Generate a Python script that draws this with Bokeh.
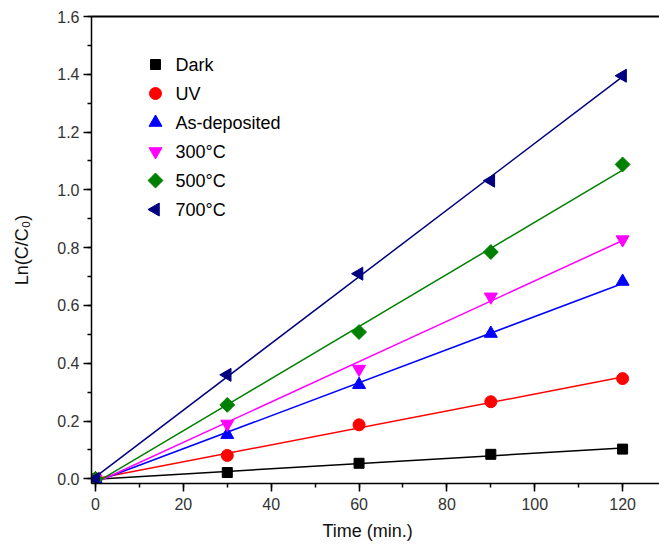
import numpy as np
from bokeh.plotting import figure
from bokeh.models import Range1d, LinearAxis, SingleIntervalTicker, PrintfTickFormatter, Title
from bokeh.core.properties import value
from bokeh.embed import file_html
from bokeh.resources import INLINE

# ---- data ----
time = [0, 30, 60, 90, 120]
dark = [0.0, 0.022, 0.054, 0.085, 0.103]
uv = [0.0, 0.081, 0.187, 0.267, 0.347]
as_dep = [0.0, 0.153, 0.326, 0.503, 0.683]
t300 = [0.0, 0.19, 0.38, 0.63, 0.828]
t500 = [0.0, 0.256, 0.508, 0.785, 1.088]
t700 = [0.0, 0.36, 0.71, 1.032, 1.395]

series_names = ["Dark", "UV", "As-deposited", "300°C", "500°C", "700°C"]
series_values = [dark, uv, as_dep, t300, t500, t700]
colors = ["#000000", "#FF0000", "#0000FF", "#FF00FF", "#008000", "#000080"]
markers = ["square", "circle", "triangle", "inverted_triangle", "square", "triangle"]
sizes = [10, 12, 13, 13, 10.5, 13]
angles = [0, 0, 0, 0, np.pi / 4, np.pi / 2]

x_ticks_interval = 20
y_ticks_interval = 0.2
x_title = "Time (min.)"
y_title = "Ln(C/C₀)"

FONT = "Liberation Sans"

# layout (pixels)
W, H = 659, 546
FL, FT, FB = 91, 16, 483          # frame left, top, bottom
X0, X1 = -0.91, 128.4
Y0, Y1 = -0.016, 1.6

p = figure(width=W, height=H, output_backend="svg", toolbar_location=None,
           x_range=Range1d(X0, X1), y_range=Range1d(Y0, Y1),
           min_border_left=FL, min_border_right=0, min_border_top=FT,
           min_border_bottom=H - FB)
p.outline_line_color = None
p.xgrid.visible = False
p.ygrid.visible = False
p.background_fill_color = "white"

for ax in (p.xaxis[0], p.yaxis[0]):
    ax.axis_line_width = 1.5
    ax.axis_line_color = "black"
    ax.major_tick_line_color = "black"
    ax.minor_tick_line_color = "black"
    ax.major_tick_line_width = 1.5
    ax.minor_tick_line_width = 1.5
    ax.major_tick_in = 0
    ax.major_tick_out = 8
    ax.minor_tick_in = 0
    ax.minor_tick_out = 4
    ax.major_label_text_font = FONT
    ax.major_label_text_font_size = "16px"
    ax.major_label_text_color = "#333333"
    ax.axis_label_text_font = FONT
    ax.axis_label_text_font_size = "18px"
    ax.axis_label_text_font_style = "normal"
    ax.axis_label_text_color = "#111111"

p.xaxis[0].ticker = SingleIntervalTicker(interval=x_ticks_interval, num_minor_ticks=2)
p.yaxis[0].ticker = SingleIntervalTicker(interval=y_ticks_interval, num_minor_ticks=2)
p.yaxis[0].formatter = PrintfTickFormatter(format="%.1f")
p.xaxis[0].major_label_standoff = 6
p.yaxis[0].major_label_standoff = 4
p.yaxis[0].axis_label = y_title
p.yaxis[0].axis_label_standoff = 22

top = LinearAxis(ticker=SingleIntervalTicker(interval=x_ticks_interval, num_minor_ticks=2))
top.axis_line_width = 2
top.axis_line_color = "black"
top.major_tick_in = 0
top.major_tick_out = 0
top.minor_tick_in = 0
top.minor_tick_out = 0
top.major_label_text_font_size = "0px"
top.major_label_text_color = None
p.add_layout(top, "above")

# x axis title as a bottom title so it can sit where the original puts it
p.add_layout(Title(text=x_title, align="left", offset=322 - FL, standoff=12,
                   text_font=FONT, text_font_size="18px", text_font_style="normal",
                   text_color="#111111"), "below")

# linear fit lines
x_fit = np.array([time[0], time[-1]], dtype=float)
for vals, c in zip(series_values, colors):
    k, b = np.polyfit(time, vals, 1)
    p.line(x_fit, k * x_fit + b, line_color=c, line_width=1.5)

for vals, c, m, s, a in zip(series_values, colors, markers, sizes, angles):
    p.scatter(time, vals, marker=m, size=s, angle=a, fill_color=c, line_color=c)


def px_to_x(px):
    return X0 + (px - FL) / (W - FL) * (X1 - X0)


def py_to_y(py):
    return Y1 - (py - FT) / (FB - FT) * (Y1 - Y0)


# ---- legend (drawn by hand so the markers keep their shape/rotation) ----
LEG_MARK_PX, LEG_TEXT_PX, LEG_TOP_PX, LEG_ROW_PX = 155, 175, 64, 29

for i, (name, c, m, s, a) in enumerate(zip(series_names, colors, markers, sizes, angles)):
    yy = py_to_y(LEG_TOP_PX + i * LEG_ROW_PX)
    p.scatter([px_to_x(LEG_MARK_PX)], [yy], marker=m, size=s, angle=a,
              fill_color=c, line_color=c)
    p.text([px_to_x(LEG_TEXT_PX)], [yy], text=[name], text_font=value(FONT),
           text_font_size="18px", text_baseline="middle", text_align="left",
           text_color="black")

open("out.html", "w").write(file_html(p, INLINE))
